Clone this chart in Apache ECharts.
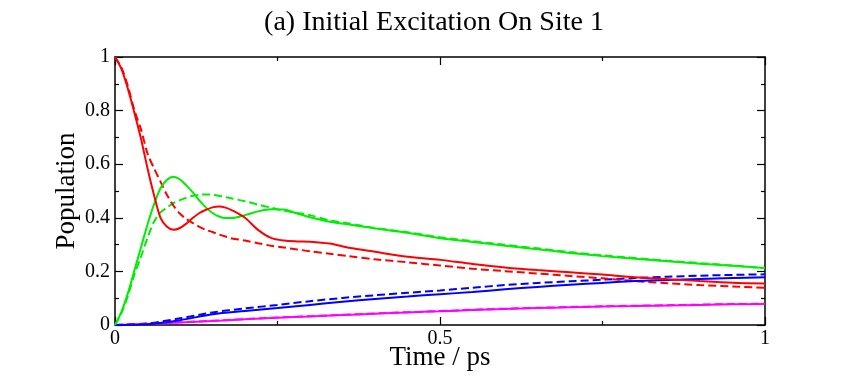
<!DOCTYPE html>
<html>
<head>
<meta charset="utf-8">
<script src="https://cdn.jsdelivr.net/npm/echarts@6/dist/echarts.min.js"></script>
<style>
    html, body { margin: 0; padding: 0; background: #fff; }
    #chart { width: 841px; height: 382px; }
</style>
</head>
<body>
<div id="chart"></div>
<script>
// time grid (ps)
const timeFine = [0, 0.01, 0.02, 0.03, 0.04, 0.05, 0.06, 0.07, 0.08, 0.09, 0.10, 0.11, 0.12, 0.13, 0.14, 0.15, 0.16, 0.17, 0.18,
    0.20, 0.22, 0.24, 0.26, 0.28, 0.30, 0.33, 0.36, 0.40, 0.45, 0.50, 0.55, 0.60, 0.65, 0.70, 0.75, 0.80, 0.85, 0.90, 0.95, 1.0]
const timeCoarse = [0, 0.05, 0.10, 0.15, 0.20, 0.25, 0.30, 0.35, 0.40, 0.45, 0.50, 0.55, 0.60, 0.65, 0.70, 0.75, 0.80, 0.85, 0.90, 0.95, 1.0]

// site 1 (red)
const site1Solid = [1.0, 0.955, 0.88, 0.79, 0.695, 0.585, 0.485, 0.40, 0.367, 0.355, 0.362, 0.379, 0.40, 0.418, 0.43, 0.439, 0.442, 0.438, 0.428,
    0.40, 0.355, 0.325, 0.315, 0.312, 0.311, 0.304, 0.288, 0.273, 0.255, 0.243, 0.228, 0.215, 0.205, 0.197, 0.188, 0.178, 0.171, 0.164, 0.158, 0.155]
const site1Dashed = [1.0, 0.96, 0.89, 0.80, 0.73, 0.64, 0.585, 0.535, 0.485, 0.445, 0.415, 0.395, 0.38, 0.366, 0.355, 0.347, 0.338, 0.330, 0.323,
    0.315, 0.305, 0.296, 0.289, 0.282, 0.275, 0.266, 0.257, 0.245, 0.234, 0.222, 0.21, 0.201, 0.192, 0.183, 0.174, 0.164, 0.156, 0.149, 0.144, 0.139]

// site 2 (green)
const site2Solid = [0, 0.05, 0.12, 0.205, 0.29, 0.375, 0.45, 0.51, 0.542, 0.553, 0.543, 0.52, 0.494, 0.464, 0.438, 0.418, 0.405, 0.399, 0.399,
    0.41, 0.424, 0.432, 0.431, 0.416, 0.402, 0.385, 0.375, 0.36, 0.344, 0.324, 0.31, 0.296, 0.283, 0.269, 0.257, 0.247, 0.238, 0.229, 0.221, 0.213]
const site2Dashed = [0, 0.045, 0.11, 0.19, 0.255, 0.325, 0.385, 0.42, 0.438, 0.455, 0.466, 0.475, 0.482, 0.486, 0.487, 0.486, 0.482, 0.477, 0.472,
    0.462, 0.449, 0.438, 0.426, 0.418, 0.41, 0.39, 0.379, 0.362, 0.346, 0.327, 0.313, 0.299, 0.286, 0.272, 0.26, 0.25, 0.24, 0.231, 0.222, 0.212]

// site 3 (blue)
const site3Solid = [0, 0.003, 0.018, 0.04, 0.052, 0.063, 0.075, 0.087, 0.097, 0.106, 0.115, 0.123, 0.133, 0.142, 0.15, 0.157, 0.164, 0.168, 0.172, 0.175, 0.178]
const site3Dashed = [0, 0.006, 0.025, 0.047, 0.062, 0.075, 0.089, 0.101, 0.111, 0.12, 0.129, 0.139, 0.149, 0.157, 0.163, 0.169, 0.175, 0.18, 0.184, 0.187, 0.189]

// site 4 (magenta)
const site4Solid = [0, 0.004, 0.009, 0.015, 0.021, 0.027, 0.032, 0.037, 0.042, 0.047, 0.051, 0.056, 0.06, 0.063, 0.066, 0.069, 0.071, 0.073, 0.075, 0.077, 0.078]
const site4Dashed = [0, 0.005, 0.010, 0.016, 0.022, 0.028, 0.033, 0.038, 0.043, 0.048, 0.052, 0.057, 0.061, 0.064, 0.067, 0.070, 0.072, 0.074, 0.076, 0.078, 0.079]

const FONT = '"Liberation Serif", "DejaVu Serif", serif'

const pairs = (xs, ys) => xs.map((x, i) => [x, ys[i]])

const makeLine = (xs, ys, color, dashed) => ({
    type: 'line',
    data: pairs(xs, ys),
    showSymbol: false,
    smooth: 0.3,
    xAxisIndex: 0,
    yAxisIndex: 0,
    lineStyle: {
        color: color,
        width: 2,
        type: dashed ? [8, 4] : 'solid'
    },
    z: dashed ? 3 : 4
})

const axisBase = {
    type: 'value',
    min: 0,
    max: 1,
    axisLine: { show: true, onZero: false, lineStyle: { color: '#000', width: 1.5 } },
    axisTick: { show: true, inside: true, length: 8, lineStyle: { color: '#000', width: 1.2 } },
    minorTick: { show: true, splitNumber: 2, length: 4, lineStyle: { color: '#000', width: 1.2 } },
    splitLine: { show: false }
}

const chart = echarts.init(document.getElementById('chart'))
chart.setOption({
    animation: false,
    backgroundColor: '#fff',
    title: {
        text: '(a) Initial Excitation On Site 1',
        left: 429,
        top: 4,
        textAlign: 'center',
        textStyle: { fontFamily: FONT, fontSize: 28, fontWeight: 'normal', color: '#000' }
    },
    grid: { left: 115, right: 76, top: 57, bottom: 57 },
    xAxis: [
        Object.assign({}, axisBase, {
            position: 'bottom',
            interval: 0.5,
            name: 'Time / ps',
            nameLocation: 'middle',
            nameGap: 19,
            nameMoveOverlap: false,
            nameTextStyle: { fontFamily: FONT, fontSize: 27, color: '#000' },
            axisLabel: { fontFamily: FONT, fontSize: 20, color: '#000', margin: 4 }
        }),
        Object.assign({}, axisBase, {
            position: 'top',
            interval: 0.5,
            axisLabel: { show: false }
        })
    ],
    yAxis: [
        Object.assign({}, axisBase, {
            position: 'left',
            interval: 0.2,
            name: 'Population',
            nameLocation: 'middle',
            nameGap: 35,
            nameMoveOverlap: false,
            nameTextStyle: { fontFamily: FONT, fontSize: 27, color: '#000' },
            axisLabel: { fontFamily: FONT, fontSize: 20, color: '#000', margin: 5 }
        }),
        Object.assign({}, axisBase, {
            position: 'right',
            interval: 0.2,
            axisLabel: { show: false }
        })
    ],
    series: [
        makeLine(timeCoarse, site4Dashed, '#ff00ff', true),
        makeLine(timeCoarse, site4Solid, '#ff00ff', false),
        makeLine(timeCoarse, site3Dashed, '#0000ff', true),
        makeLine(timeCoarse, site3Solid, '#0000ff', false),
        makeLine(timeFine, site2Dashed, '#00ee00', true),
        makeLine(timeFine, site2Solid, '#00ee00', false),
        makeLine(timeFine, site1Dashed, '#ff0000', true),
        makeLine(timeFine, site1Solid, '#ff0000', false)
    ]
})
</script>
</body>
</html>
